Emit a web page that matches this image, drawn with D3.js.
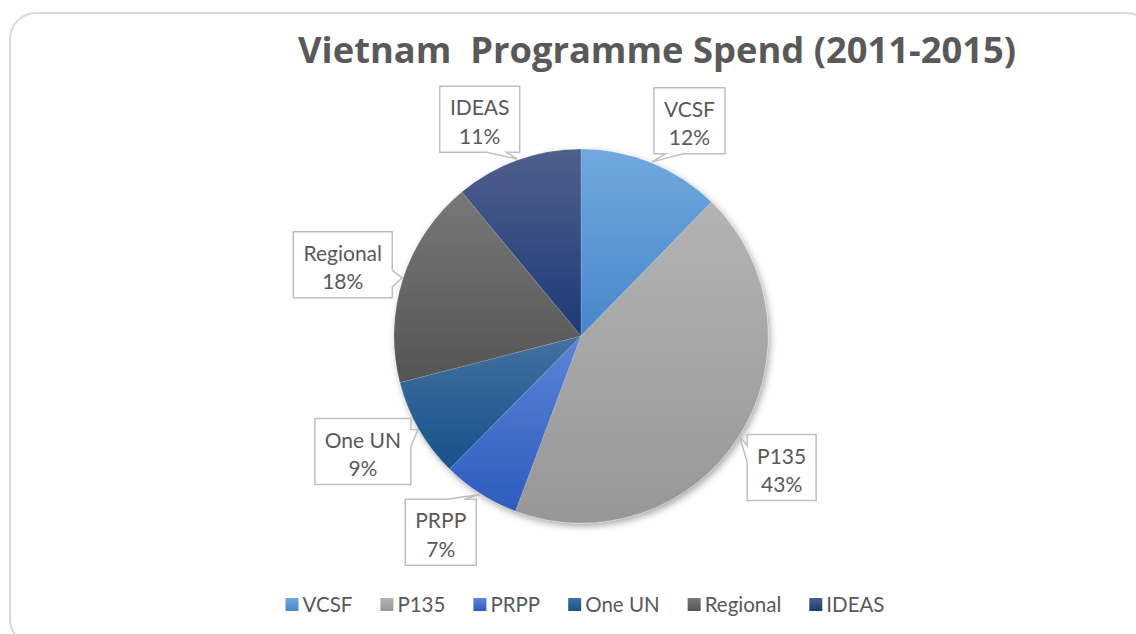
<!DOCTYPE html>
<html>
<head>
<meta charset="utf-8">
<script src="https://cdn.jsdelivr.net/npm/d3@7"></script>
<style>
  html, body { margin: 0; padding: 0; background: #ffffff; }
  svg { display: block; }
</style>
</head>
<body>
<svg id="chart" width="1136" height="634"></svg>
<script>
// ---- data ----
const titleText = "Vietnam  Programme Spend (2011-2015)";
const categories = ["VCSF", "P135", "PRPP", "One UN", "Regional", "IDEAS"];
const values = [12.3, 43.4, 6.7, 8.6, 18.0, 11.0];

// ---- styles / layout ----
const colorTop    = ["#70a8de", "#b3b3b3", "#5d84d8", "#42719f", "#787878", "#505f8c"];
const colorBottom = ["#4787cb", "#979797", "#2e5cbe", "#18518b", "#545454", "#1d3a77"];
const labelNudge = [[18, 7], [-2, 3], [-11, -6], [-10, -4], [-10, 3], [-20, 9]];

const W = 1136, H = 634;
const cx = 581, cy = 336, R = 187;
const textColor = "#595959";
const fontFam = "Lato, 'Open Sans', sans-serif";

const svg = d3.select("#chart");
const defs = svg.append("defs");

// chart border
svg.append("rect")
  .attr("x", 10).attr("y", 13).attr("width", 1142).attr("height", 632)
  .attr("rx", 26).attr("ry", 26)
  .attr("fill", "#ffffff").attr("stroke", "#d9d9d9").attr("stroke-width", 2);

// gradients
categories.forEach((c, i) => {
  const g = defs.append("linearGradient")
    .attr("id", "grad" + i)
    .attr("x1", 0).attr("y1", 0).attr("x2", 0).attr("y2", 1);
  g.append("stop").attr("offset", "0%").attr("stop-color", colorTop[i]);
  g.append("stop").attr("offset", "100%").attr("stop-color", colorBottom[i]);
});

// shadow
const f = defs.append("filter").attr("id", "shadow")
  .attr("x", "-10%").attr("y", "-10%").attr("width", "125%").attr("height", "125%");
f.append("feDropShadow").attr("dx", 2).attr("dy", 3).attr("stdDeviation", 3.5)
  .attr("flood-color", "#000").attr("flood-opacity", 0.35);

// title (fit to the reference width)
const title = svg.append("text")
  .attr("x", 657).attr("y", 63)
  .attr("text-anchor", "middle")
  .attr("font-family", "'Open Sans', Lato, sans-serif")
  .attr("font-weight", "bold")
  .attr("font-size", 32)
  .attr("fill", textColor)
  .attr("xml:space", "preserve")
  .style("white-space", "pre")
  .text(titleText);
const tl = title.node().getComputedTextLength();
if (tl > 0) title.attr("font-size", 32 * 718 / tl);

// pie
const pie = d3.pie().sort(null).value(d => d)
  .startAngle(0).endAngle(2 * Math.PI);
const arcs = pie(values);
const arcGen = d3.arc().innerRadius(0).outerRadius(R);

const gPie = svg.append("g").attr("transform", `translate(${cx},${cy})`);
gPie.append("g").attr("filter", "url(#shadow)")
  .selectAll("path")
  .data(arcs)
  .enter().append("path")
  .attr("d", arcGen)
  .attr("fill", (d, i) => `url(#grad${i})`)
  .attr("stroke", "rgba(255,255,255,0.25)")
  .attr("stroke-width", 0.6);

// callouts
const total = d3.sum(values);
const gLab = svg.append("g");
arcs.forEach((a, i) => {
  const mid = (a.startAngle + a.endAngle) / 2;
  const pct = Math.round(values[i] / total * 100) + "%";
  const tipX = cx + (R + 1) * Math.sin(mid);
  const tipY = cy - (R + 1) * Math.cos(mid);
  const bx = cx + 240 * Math.sin(mid) + labelNudge[i][0];
  const by = cy - 240 * Math.cos(mid) + labelNudge[i][1];

  const grp = gLab.append("g");
  const t1 = grp.append("text")
    .attr("x", bx).attr("y", by - 4)
    .attr("text-anchor", "middle")
    .attr("font-family", fontFam).attr("font-size", 21)
    .attr("fill", textColor).text(categories[i]);
  const t2 = grp.append("text")
    .attr("x", bx).attr("y", by + 24.5)
    .attr("text-anchor", "middle")
    .attr("font-family", fontFam).attr("font-size", 21)
    .attr("fill", textColor).text(pct);
  const tw = Math.max(t1.node().getComputedTextLength(), t2.node().getComputedTextLength());
  const w = Math.round(tw + 20), h = 66;
  const x0 = bx - w / 2, y0 = by - h / 2;
  const x1 = x0 + w, y1 = y0 + h;

  const dx = tipX - bx, dy = tipY - by;
  const dq = dx * h / w;
  let pts;
  if (Math.abs(dq) > Math.abs(dy)) {
    const ya = dy < 0 ? y0 + h * 2 / 12 : y0 + h * 7 / 12;
    const yb = dy < 0 ? y0 + h * 5 / 12 : y0 + h * 10 / 12;
    if (dx > 0) {
      pts = [[x0, y0], [x1, y0], [x1, ya], [tipX, tipY], [x1, yb], [x1, y1], [x0, y1]];
    } else {
      pts = [[x0, y0], [x1, y0], [x1, y1], [x0, y1], [x0, yb], [tipX, tipY], [x0, ya]];
    }
  } else {
    const xa = dx < 0 ? x0 + w * 2 / 12 : x0 + w * 7 / 12;
    const xb = dx < 0 ? x0 + w * 5 / 12 : x0 + w * 10 / 12;
    if (dy < 0) {
      pts = [[x0, y0], [xa, y0], [tipX, tipY], [xb, y0], [x1, y0], [x1, y1], [x0, y1]];
    } else {
      pts = [[x0, y0], [x1, y0], [x1, y1], [xb, y1], [tipX, tipY], [xa, y1], [x0, y1]];
    }
  }
  grp.insert("path", "text")
    .attr("d", "M" + pts.map(p => p.join(",")).join("L") + "Z")
    .attr("fill", "#ffffff")
    .attr("stroke", "#bfbfbf")
    .attr("stroke-width", 1.5);
});

// legend
const gLeg = svg.append("g");
let xPos = 0;
const legGap = 28;
categories.forEach((c, i) => {
  const it = gLeg.append("g");
  it.append("rect").attr("x", xPos).attr("y", 598).attr("width", 13).attr("height", 13)
    .attr("fill", `url(#grad${i})`);
  const t = it.append("text").attr("x", xPos + 17).attr("y", 612)
    .attr("font-family", fontFam).attr("font-size", 20.5)
    .attr("fill", textColor).text(c);
  xPos += 17 + t.node().getComputedTextLength() + legGap;
});
const legW = xPos - legGap;
gLeg.attr("transform", `translate(${585 - legW / 2},0)`);
</script>
</body>
</html>
